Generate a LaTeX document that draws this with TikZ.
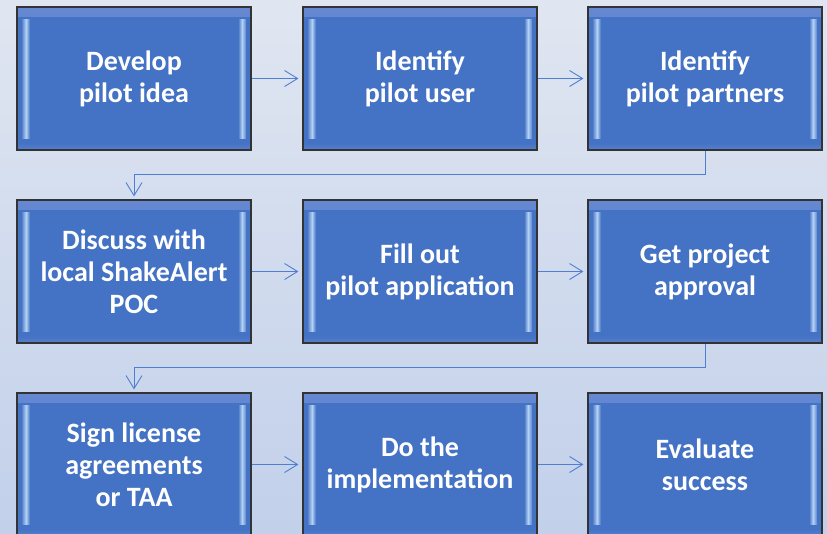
\documentclass[tikz,border=0pt]{standalone}
\usepackage{fontspec}
\setmainfont{Carlito}
\usetikzlibrary{arrows.meta,calc}
\definecolor{boxblue}{HTML}{4472C4}
\definecolor{bevtop}{HTML}{6688D2}
\definecolor{bevbot}{HTML}{5680CC}
\definecolor{hilite}{HTML}{B4D2F4}
\definecolor{linkblue}{HTML}{4F7FD2}
\definecolor{bgtop}{HTML}{E0E6F1}
\definecolor{bgbot}{HTML}{C2D0EA}
\tikzset{
  stepbox/.style={
    minimum width=234pt, minimum height=143pt, inner sep=0pt,
    fill=boxblue, draw=black!80, line width=1.2pt,
    text=white, align=center,
    font=\fontsize{28}{32}\selectfont\bfseries,
    path picture={
      \shade[top color=bevtop, bottom color=boxblue]
        (path picture bounding box.north west) rectangle
        ([yshift=-9pt]path picture bounding box.north east);
      \shade[top color=boxblue, bottom color=bevbot]
        ([yshift=7pt]path picture bounding box.south west) rectangle
        (path picture bounding box.south east);
      \shade[left color=boxblue!80!hilite, right color=boxblue, middle color=hilite]
        ([xshift=5pt,yshift=-12pt]path picture bounding box.north west) rectangle
        ([xshift=13pt,yshift=12pt]path picture bounding box.south west);
      \shade[left color=boxblue, right color=boxblue!80!hilite, middle color=hilite]
        ([xshift=-13pt,yshift=-12pt]path picture bounding box.north east) rectangle
        ([xshift=-5pt,yshift=12pt]path picture bounding box.south east);
    }},
  link/.style={draw=linkblue, line width=0.9pt,
    -{Straight Barb[length=13pt,width=16pt,line width=0.9pt]}},
}
\begin{document}
\begin{tikzpicture}[x=1pt,y=-1pt]
\shade[top color=bgtop, bottom color=bgbot] (0,0) rectangle (827,533);
\useasboundingbox (0,0) rectangle (827,533);
\begin{scope}
\clip (0,0) rectangle (827,533);
\node[stepbox] (b1) at (134,78.5) {Develop\\pilot idea};
\node[stepbox] (b2) at (420,78.5) {Identify\\pilot user};
\node[stepbox] (b3) at (705,78.5) {Identify\\pilot partners};
\node[stepbox] (b4) at (134,271.5) {Discuss with\\local ShakeAlert\\POC};
\node[stepbox] (b5) at (420,271.5) {Fill out\\pilot application};
\node[stepbox] (b6) at (705,271.5) {Get project\\approval};
\node[stepbox] (b7) at (134,464.5) {Sign license\\agreements\\or TAA};
\node[stepbox] (b8) at (420,464.5) {Do the\\implementation};
\node[stepbox] (b9) at (705,464.5) {Evaluate\\success};
\end{scope}
\draw[link, shorten >=4pt] (b1.east) -- (b2.west);
\draw[link, shorten >=4pt] (b2.east) -- (b3.west);
\draw[link, shorten >=4pt] (b4.east) -- (b5.west);
\draw[link, shorten >=4pt] (b5.east) -- (b6.west);
\draw[link, shorten >=4pt] (b7.east) -- (b8.west);
\draw[link, shorten >=4pt] (b8.east) -- (b9.west);
\draw[link, shorten >=3pt] (b3.south) -- ++(0,24) -| (b4.north);
\draw[link, shorten >=3pt] (b6.south) -- ++(0,24) -| (b7.north);
\end{tikzpicture}
\end{document}
